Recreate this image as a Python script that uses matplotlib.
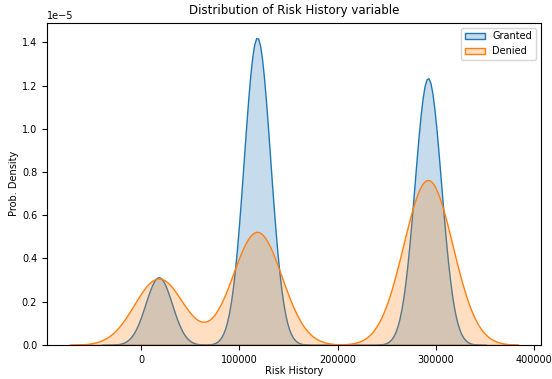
import numpy as np
import matplotlib
matplotlib.use('Agg')
import matplotlib.pyplot as plt
import seaborn as sns

# Risk History values: cluster centres plus the smallest / largest seen
risk_values = [4500, 18000, 118000, 292000, 306700]
# share of the applicants at each value, per class
granted_share = [0.002, 0.104, 0.478, 0.414, 0.002]
denied_share = [0.002, 0.191, 0.328, 0.477, 0.002]
# kernel width (in Risk History units) of each curve
granted_bw = 13400
denied_bw = 25000


def bw_factor(values, weights, bw):
    # gaussian_kde wants a factor relative to the weighted std of the data
    std = np.sqrt(np.cov(values, aweights=weights))
    return bw / std


fig = plt.figure(figsize=(5.52, 3.79), dpi=100)
ax = fig.add_axes([0.085, 0.09, 0.895, 0.85])

sns.kdeplot(x=risk_values, weights=granted_share, fill=True, linewidth=1,
            bw_method=bw_factor(risk_values, granted_share, granted_bw),
            label='Granted', ax=ax)
sns.kdeplot(x=risk_values, weights=denied_share, fill=True, linewidth=1,
            bw_method=bw_factor(risk_values, denied_share, denied_bw),
            label='Denied', ax=ax)

ax.set_title('Distribution of Risk History variable', fontsize=8.5)
ax.set_xlabel('Risk History', fontsize=7, labelpad=1)
ax.set_ylabel('Prob. Density', fontsize=7, labelpad=2)
ax.tick_params(labelsize=7)
ax.yaxis.get_offset_text().set_fontsize(7)
ax.legend(loc='upper right', fontsize=7)

fig.savefig('out.png', dpi=100)
